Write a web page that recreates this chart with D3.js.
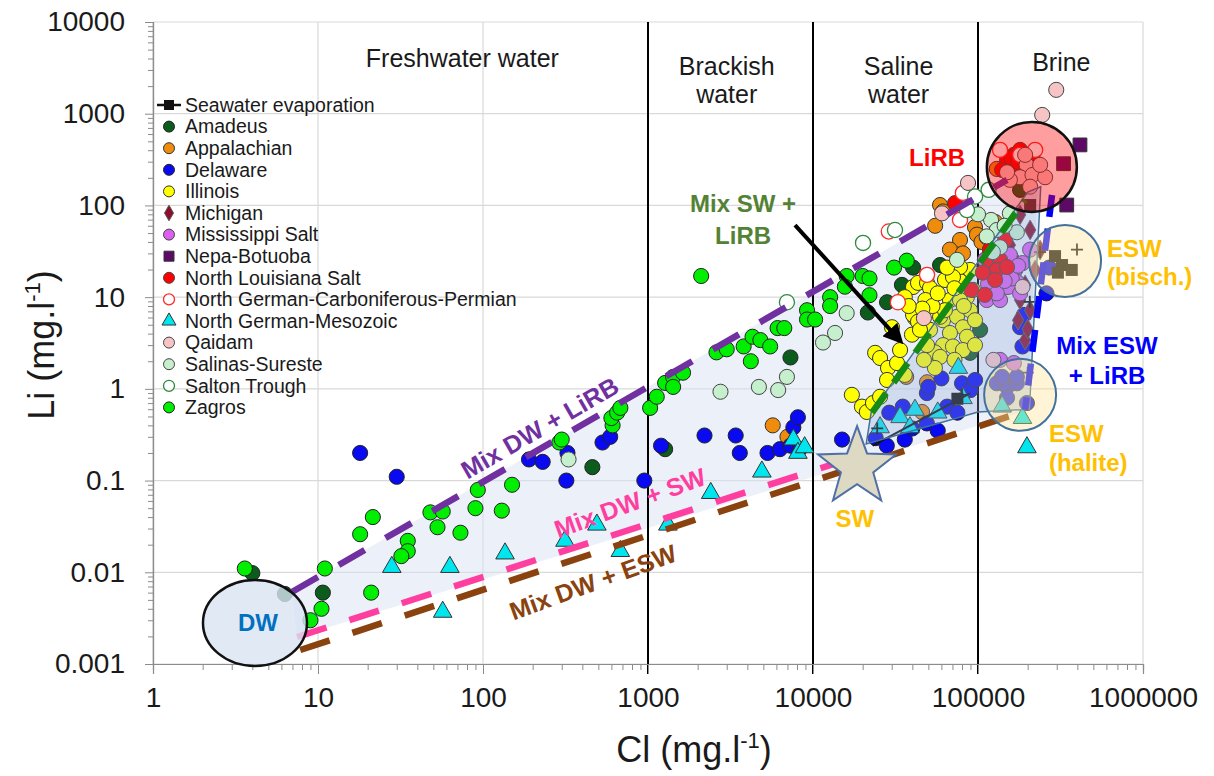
<!DOCTYPE html>
<html>
<head>
<meta charset="utf-8">
<script src="https://cdn.jsdelivr.net/npm/d3@7"></script>
<style>
  body { margin: 0; background: #fff; }
  svg { font-family: "Liberation Sans", Arial, sans-serif; }
</style>
</head>
<body>
<svg id="chart" width="1214" height="776"></svg>
<script>
// ---- data: [Cl mg/l, Li mg/l] ----
const amadeus = [[4,0.0098],[6.3,0.0058],[10.7,0.006],[460,0.14],[1270,0.22],[7300,2.2],[21500,6.8],[28100,8.8],[34600,13.6],[40400,21],[58900,22.4],[89500,2.47],[103000,4.4],[180000,148]];
const appalachian = [[5700,0.4],[7000,0.3],[36700,1.35],[49100,1.18],[45800,0.56],[58900,101],[61400,86],[77800,42],[95900,58],[98500,48],[105000,40],[67600,33],[81100,30],[113000,45],[130000,250],[127000,66],[55000,60]];
const delaware = [[18,0.2],[30,0.11],[190,0.17],[230,0.16],[320,0.1],[325,0.2],[530,0.26],[590,0.3],[950,0.1],[1200,0.24],[2200,0.31],[3400,0.31],[3600,0.2],[5300,0.2],[6300,0.22],[7300,0.24],[8300,0.22],[7600,0.38],[8100,0.49],[15000,0.28],[24000,0.29],[28000,0.24],[29000,0.55],[35000,0.64],[36000,0.28],[40000,0.37],[49000,0.9],[50000,1.05],[49000,0.42],[57000,0.35],[60000,1.3],[65000,0.64],[75000,0.55],[80000,1.15],[90000,0.97],[96000,1.25],[130000,1.15],[150000,1.05],[172000,1.15],[150000,0.8],[198000,0.7],[172000,1.35],[140000,1.35],[180000,4.7],[186000,2.9],[190000,6.4],[270000,21],[260000,11]];
const illinois = [[17200,0.86],[19800,0.64],[21200,0.56],[23100,0.7],[25500,0.82],[23800,2.47],[25500,2.17],[28500,1.69],[28100,1.25],[32300,1.91],[33700,2.65],[30100,4.7],[39800,3.9],[41500,5.9],[40400,12.9],[43300,14.3],[49100,14.3],[51200,12.6],[63100,15.4],[77800,15],[40400,6.4],[43300,5.4],[51200,4.4],[61400,5.6],[74600,6.1],[89500,7.2],[81100,4.7],[67600,4.07],[85700,3.7],[61400,3.0],[70500,2.9],[81100,2.65],[54800,2.5],[49100,3.0],[58900,2.23],[54800,1.69],[44500,4.4],[58900,6.1],[85700,10],[93300,12],[89500,19.8],[77800,21.3],[70500,16.6],[64900,21],[36000,10],[48000,9.3],[67600,9.3],[63000,7.2],[77800,9.3],[95900,5.6],[95900,3.0],[72000,2.07],[47000,2.07],[36000,1.42],[53000,8],[57000,11],[72000,12.5],[82000,8],[46000,7.5],[38000,8]];
const michigan = [[175000,5.6],[207000,7.2],[180000,9.3],[136000,10.6],[193000,13.6],[146000,17.5],[222000,19.8],[168000,25.5],[238000,32.7],[136000,28.8],[207000,54],[156000,37],[180000,79],[193000,3.4],[200000,4.5]];
const mississippiSalt = [[142000,21.3],[168000,19.8],[186000,23.5],[172000,14.7],[152000,12.9],[124000,12.6],[113000,9.3],[136000,9.3],[180000,11],[123000,16.6],[110000,25.5],[156000,29],[136000,2.07],[165000,1.91],[207000,33],[115000,14],[130000,11],[160000,16],[175000,22],[145000,15]];
const nepaBotuoba = [[415000,457],[330000,285],[345000,101]];
const northLouisiana = [[150000,313],[165000,356],[180000,403],[200000,356],[215000,365],[170000,277],[140000,244],[190000,340],[72600,106],[118000,23.5],[136000,25.5],[130000,19.8],[150000,21.3],[107000,18.5],[91000,12],[146000,42],[118000,33],[127000,15.4],[110000,10.6],[160000,330],[175000,300],[205000,320]];
const ngCarbPerm = [[28800,52],[81000,137],[77800,69.5],[49100,17.5],[32700,8.8],[180000,356],[222000,403],[136000,403]];
const ngMesozoic = [[28,0.0114],[63,0.0114],[136,0.016],[57,0.0037],[314,0.022],[490,0.033],[680,0.017],[1320,0.033],[2400,0.073],[4900,0.125],[7600,0.28],[8100,0.2],[8900,0.23],[25500,0.38],[33700,0.49],[38700,0.38],[41500,0.59],[57000,0.55],[76000,1.69],[81100,0.79],[140000,0.64],[186000,0.48],[198000,0.23]];
const qaidam = [[298000,1820],[245000,970],[87000,176],[60500,82],[47000,5.9],[124000,2.07],[186000,12.9],[197000,277],[180000,203],[214000,215],[255000,203],[156000,190],[207000,160],[150000,230],[238000,277],[193000,356]];
const salinasSureste = [[330,0.17],[2750,0.93],[4700,1.05],[6150,0.97],[6950,1.35],[11500,3.2],[13600,4.07],[16000,6.7],[120000,69.5],[130000,54],[156000,82],[113000,46],[136000,35],[172000,51],[123000,31],[74600,25.5],[100000,80],[145000,60]];
const saltonTrough = [[6950,8.8],[20100,39],[31400,54],[85700,89],[116000,148],[96000,125]];
const zagros = [[3.6,0.011],[11,0.011],[10.5,0.004],[9,0.003],[21,0.006],[18,0.026],[21.5,0.04],[35,0.022],[35,0.017],[32,0.015],[48,0.045],[53,0.031],[57,0.046],[73,0.027],[90,0.05],[93,0.079],[130,0.047],[150,0.09],[290,0.26],[300,0.28],[610,0.4],[600,0.48],[650,0.55],[680,0.62],[1030,0.62],[1130,0.82],[1270,1.16],[1420,1.35],[1420,1.05],[1630,1.5],[2100,17],[2600,2.5],[3000,2.7],[3800,2.9],[4300,3.7],[4800,3.4],[4200,2],[5500,2.9],[6100,4.6],[6700,4.6],[9200,7.2],[9200,5.7],[10300,5.7],[12700,10],[12700,8],[16000,17],[15600,13],[20000,17],[22000,16],[22000,10.5],[31000,21],[37000,25]];

// seawater evaporation path
const evapLine = [[23000,0.24],[90000,0.9]];
const evapCross = [[24500,0.37],[80000,0.86],[200000,1.5],[206000,8.9],[238000,31],[398000,33]];
const evapSquare = [[75000,0.78],[293000,28],[323000,22.4],[370000,19.8],[305000,18.5],[207000,101]];

// mixing lines (end points)
const mixDwLirb = [[6.95,0.0061],[150000,190]];
const mixDwSw = [[7.46,0.00197],[14000,0.156]];
const mixDwEsw = [[7.8,0.00142],[180000,0.55]];
const mixSwLirb = [[22800,0.55],[193000,115]];
const mixEswLirb = [[281000,130],[193000,0.59]];

// shaded mixing domains
const outerDomain = [[6.95,0.0061],[150000,190],[230000,175],[200000,0.6],[180000,0.55],[7.46,0.00197]];
const innerDomain = [[21000,0.25],[22500,0.55],[200000,140],[240000,160],[205000,0.6],[100000,0.56]];

// end members
const dwCentre = [4.15, 0.0028];
const swCentre = [18500, 0.14];
const lirbCentre = [212000, 263];
const eswBischCentre = [337000, 24.8];
const eswHaliteCentre = [180000, 0.86];

const xTicks = [1, 10, 100, 1000, 10000, 100000, 1000000];
const yTicks = [0.001, 0.01, 0.1, 1, 10, 100, 1000, 10000];
const zoneBounds = [1000, 10000, 100000];

// ---- chart ----
const svg = d3.select("#chart");
const x = d3.scaleLog().domain([1, 1e6]).range([153, 1143]);
const y = d3.scaleLog().domain([0.001, 10000]).range([664, 22]);

const minorTicks = (lo, hi) => {
  const out = [];
  for (let e = lo; e < hi; e++) for (let m = 2; m < 10; m++) out.push(m * Math.pow(10, e));
  return out;
};

// grid
const grid = svg.append("g");
grid.selectAll(".gy").data(yTicks).join("line")
  .attr("x1", 153).attr("x2", 1143)
  .attr("y1", d => y(d)).attr("y2", d => y(d))
  .attr("stroke", "#d9d9d9").attr("stroke-width", 1.2);
grid.selectAll(".gx").data(xTicks).join("line")
  .attr("x1", d => x(d)).attr("x2", d => x(d))
  .attr("y1", 22).attr("y2", 664)
  .attr("stroke", "#d9d9d9").attr("stroke-width", 1.2);

// outer mixing field (under the points)
const line = d3.line().x(d => x(d[0])).y(d => y(d[1]));
svg.append("path")
  .attr("d", line(outerDomain) + "Z")
  .attr("fill", "#dae3f3").attr("opacity", 0.5);

// salinity zone boundaries
svg.append("g").selectAll("line").data(zoneBounds).join("line")
  .attr("x1", d => x(d)).attr("x2", d => x(d))
  .attr("y1", 22).attr("y2", 674)
  .attr("stroke", "#000").attr("stroke-width", 2);

// axes
const styleAxis = g => {
  g.select(".domain").attr("stroke", "#8c8c8c").attr("stroke-width", 1.2);
  g.selectAll(".tick line").attr("stroke", "#8c8c8c");
  g.selectAll("text").attr("font-size", 28).attr("fill", "#1a1a1a")
    .attr("font-family", "'Liberation Sans', Arial, sans-serif");
};
svg.append("g").attr("transform", "translate(0,664)")
  .call(d3.axisBottom(x).tickValues(minorTicks(0, 6)).tickFormat(() => "").tickSize(6))
  .call(styleAxis);
svg.append("g").attr("transform", "translate(0,664)")
  .call(d3.axisBottom(x).tickValues(xTicks).tickFormat(d => String(d)).tickSize(10).tickPadding(13))
  .call(styleAxis);
svg.append("g").attr("transform", "translate(153,0)")
  .call(d3.axisLeft(y).tickValues(minorTicks(-3, 4)).tickFormat(() => "").tickSize(5))
  .call(styleAxis);
svg.append("g").attr("transform", "translate(153,0)")
  .call(d3.axisLeft(y).tickValues(yTicks).tickFormat(d => String(d)).tickSize(8).tickPadding(20))
  .call(styleAxis);

// axis titles
const xTitle = svg.append("text").attr("x", 694).attr("y", 762)
  .attr("text-anchor", "middle").attr("font-size", 36).attr("fill", "#1a1a1a");
xTitle.append("tspan").text("Cl (mg.l");
xTitle.append("tspan").attr("font-size", 22).attr("dy", -14).text("-1");
xTitle.append("tspan").attr("dy", 14).text(")");

const yTitle = svg.append("text").attr("transform", "translate(54,345) rotate(-90)")
  .attr("text-anchor", "middle").attr("font-size", 36).attr("fill", "#1a1a1a");
yTitle.append("tspan").text("Li  (mg.l");
yTitle.append("tspan").attr("font-size", 22).attr("dy", -14).text("-1");
yTitle.append("tspan").attr("dy", 14).text(")");

// zone labels
const zoneLabels = [
  { cl: 75, lines: ["Freshwater water"], y0: 67 },
  { cl: 3000, lines: ["Brackish", "water"], y0: 75 },
  { cl: 33000, lines: ["Saline", "water"], y0: 75 },
  { cl: 320000, lines: ["Brine"], y0: 71 }
];
zoneLabels.forEach(z => {
  z.lines.forEach((t, i) => {
    svg.append("text").attr("x", x(z.cl)).attr("y", z.y0 + i * 28)
      .attr("text-anchor", "middle").attr("font-size", 25).attr("fill", "#1a1a1a").text(t);
  });
});

// ---- series ----
const series = [
  { name: "Amadeus", data: amadeus, shape: "circle", fill: "#0c5c1d", stroke: "#222" },
  { name: "Appalachian", data: appalachian, shape: "circle", fill: "#f08c0c", stroke: "#333" },
  { name: "Delaware", data: delaware, shape: "circle", fill: "#0a0af2", stroke: "#222" },
  { name: "Illinois", data: illinois, shape: "circle", fill: "#ffff00", stroke: "#333" },
  { name: "Michigan", data: michigan, shape: "diamond", fill: "#8e0c2c", stroke: "#555" },
  { name: "Mississippi Salt", data: mississippiSalt, shape: "circle", fill: "#dc5fef", stroke: "#444" },
  { name: "Nepa-Botuoba", data: nepaBotuoba, shape: "square", fill: "#5c0a66", stroke: "#333" },
  { name: "North Louisiana Salt", data: northLouisiana, shape: "circle", fill: "#ff0000", stroke: "#444" },
  { name: "North German-Carboniferous-Permian", data: ngCarbPerm, shape: "circle", fill: "#ffffff", stroke: "#ff2a2a" },
  { name: "North German-Mesozoic", data: ngMesozoic, shape: "triangle", fill: "#00e6ef", stroke: "#333" },
  { name: "Qaidam", data: qaidam, shape: "circle", fill: "#f6c4c4", stroke: "#444" },
  { name: "Salinas-Sureste", data: salinasSureste, shape: "circle", fill: "#c6efce", stroke: "#444" },
  { name: "Salton Trough", data: saltonTrough, shape: "circle", fill: "#ffffff", stroke: "#2e8b3e" },
  { name: "Zagros", data: zagros, shape: "circle", fill: "#00ee00", stroke: "#222" }
];

const symbolPath = {
  circle: d3.symbol().type(d3.symbolCircle).size(180)(),
  diamond: d3.symbol().type(d3.symbolDiamond).size(110)(),
  square: d3.symbol().type(d3.symbolSquare).size(190)(),
  triangle: d3.symbol().type(d3.symbolTriangle).size(150)()
};
const legendPath = {
  circle: d3.symbol().type(d3.symbolCircle).size(95)(),
  diamond: d3.symbol().type(d3.symbolDiamond).size(70)(),
  square: d3.symbol().type(d3.symbolSquare).size(100)(),
  triangle: d3.symbol().type(d3.symbolTriangle).size(85)()
};

const pts = svg.append("g");
series.forEach(s => {
  pts.append("g").selectAll("path").data(s.data).join("path")
    .attr("transform", d => `translate(${x(d[0])},${y(d[1])})`)
    .attr("d", symbolPath[s.shape])
    .attr("fill", s.fill).attr("stroke", s.stroke)
    .attr("stroke-width", s.fill === "#ffffff" ? 1.3 : 1);
});

// seawater evaporation
svg.append("path").attr("d", line(evapLine)).attr("fill", "none")
  .attr("stroke", "#111").attr("stroke-width", 2);
svg.append("g").selectAll("rect").data(evapSquare).join("rect")
  .attr("x", d => x(d[0]) - 6).attr("y", d => y(d[1]) - 6)
  .attr("width", 12).attr("height", 12).attr("fill", "#111");
svg.append("g").selectAll("path").data(evapCross).join("path")
  .attr("transform", d => `translate(${x(d[0])},${y(d[1])})`)
  .attr("d", "M-6,0H6M0,-6V6").attr("stroke", "#111").attr("stroke-width", 1.8);

// inner mixing field SW - LiRB - ESW
svg.append("path")
  .attr("d", line(innerDomain) + "Z")
  .attr("fill", "#8faadc").attr("fill-opacity", 0.3)
  .attr("stroke", "#41719c").attr("stroke-width", 1.5);

// mixing lines
const mixes = [
  { data: mixDwLirb, color: "#7030a0", dash: "30 24" },
  { data: mixDwSw, color: "#ff3fa0", dash: "31 24" },
  { data: mixDwEsw, color: "#8a430f", dash: "31 24" },
  { data: mixSwLirb, color: "#158a15", dash: "24 13" },
  { data: mixEswLirb, color: "#0000ff", dash: "22 12" }
];
mixes.forEach(m => {
  svg.append("path").attr("d", line(m.data)).attr("fill", "none")
    .attr("stroke", m.color).attr("stroke-width", 6.5).attr("stroke-dasharray", m.dash);
});

// end-member shapes
svg.append("circle").attr("cx", x(lirbCentre[0])).attr("cy", y(lirbCentre[1])).attr("r", 45)
  .attr("fill", "#ff0000").attr("fill-opacity", 0.38).attr("stroke", "#111").attr("stroke-width", 2.5);
[eswBischCentre, eswHaliteCentre].forEach(c => {
  svg.append("circle").attr("cx", x(c[0])).attr("cy", y(c[1])).attr("r", 36)
    .attr("fill", "#ffe699").attr("fill-opacity", 0.4).attr("stroke", "#41719c").attr("stroke-width", 2);
});
svg.append("ellipse").attr("cx", x(dwCentre[0])).attr("cy", y(dwCentre[1])).attr("rx", 52).attr("ry", 43)
  .attr("fill", "#dae3f3").attr("fill-opacity", 0.8).attr("stroke", "#111").attr("stroke-width", 2.5);

const starPath = (R, r) => {
  const p = [];
  for (let i = 0; i < 10; i++) {
    const a = -Math.PI / 2 + i * Math.PI / 5;
    const rad = i % 2 ? r : R;
    p.push([rad * Math.cos(a), rad * Math.sin(a)]);
  }
  return "M" + p.join("L") + "Z";
};
svg.append("path").attr("transform", `translate(${x(swCentre[0])},${y(swCentre[1])})`)
  .attr("d", starPath(41, 17)).attr("fill", "#ddd9c3").attr("stroke", "#4f6fa6").attr("stroke-width", 2);

// arrow
svg.append("defs").append("marker").attr("id", "arrow")
  .attr("viewBox", "0 0 10 10").attr("refX", 8).attr("refY", 5)
  .attr("markerWidth", 5).attr("markerHeight", 5).attr("orient", "auto")
  .append("path").attr("d", "M0,0L10,5L0,10Z").attr("fill", "#000");
const arrowLine = [[7780, 61], [34000, 3.3]];
svg.append("path").attr("d", line(arrowLine)).attr("stroke", "#000").attr("stroke-width", 4)
  .attr("fill", "none").attr("marker-end", "url(#arrow)");

// annotations
const notes = [
  { at: [56500, 270], text: "LiRB", color: "#ff0000", anchor: "middle" },
  { at: [3770, 85], text: "Mix SW +", color: "#548235", anchor: "middle" },
  { at: [3770, 38], text: "LiRB", color: "#548235", anchor: "middle" },
  { at: [605000, 27.4], text: "ESW", color: "#ffc000", anchor: "start" },
  { at: [605000, 13.6], text: "(bisch.)", color: "#ffc000", anchor: "start" },
  { at: [605000, 2.4], text: "Mix ESW", color: "#0000ff", anchor: "middle" },
  { at: [605000, 1.13], text: "+ LiRB", color: "#0000ff", anchor: "middle" },
  { at: [269000, 0.264], text: "ESW", color: "#ffc000", anchor: "start" },
  { at: [269000, 0.127], text: "(halite)", color: "#ffc000", anchor: "start" },
  { at: [17900, 0.031], text: "SW", color: "#ffc000", anchor: "middle" },
  { at: [4.33, 0.0023], text: "DW", color: "#0070c0", anchor: "middle" }
];
notes.forEach(n => {
  svg.append("text").attr("x", x(n.at[0])).attr("y", y(n.at[1]))
    .attr("text-anchor", n.anchor).attr("font-size", 24).attr("font-weight", "bold")
    .attr("fill", n.color).text(n.text);
});

const rotNotes = [
  { at: [221, 0.375], text: "Mix DW + LiRB", color: "#7030a0", angle: -30 },
  { at: [778, 0.057], text: "Mix DW + SW", color: "#ff3fa0", angle: -20 },
  { at: [464, 0.0078], text: "Mix DW + ESW", color: "#8a430f", angle: -20 }
];
rotNotes.forEach(n => {
  svg.append("text")
    .attr("transform", `translate(${x(n.at[0])},${y(n.at[1])}) rotate(${n.angle})`)
    .attr("text-anchor", "middle").attr("dy", "0.35em")
    .attr("font-size", 25).attr("font-weight", "bold").attr("fill", n.color).text(n.text);
});

// ---- legend ----
const legend = svg.append("g").attr("transform", "translate(169,105)");
const rowH = 21.6;
const evapRow = legend.append("g");
evapRow.append("line").attr("x1", -12).attr("x2", 12).attr("stroke", "#111").attr("stroke-width", 2.5);
evapRow.append("rect").attr("x", -5).attr("y", -5).attr("width", 10).attr("height", 10).attr("fill", "#111");
evapRow.append("text").attr("x", 16).attr("dy", "0.35em").attr("font-size", 19.5).attr("fill", "#1a1a1a")
  .text("Seawater evaporation");

series.forEach((s, i) => {
  const g = legend.append("g").attr("transform", `translate(0,${(i + 1) * rowH})`);
  g.append("path").attr("d", legendPath[s.shape])
    .attr("fill", s.fill).attr("stroke", s.stroke).attr("stroke-width", s.fill === "#ffffff" ? 1.3 : 1);
  g.append("text").attr("x", 16).attr("dy", "0.35em").attr("font-size", 19.5).attr("fill", "#1a1a1a")
    .text(s.name);
});
</script>
</body>
</html>
